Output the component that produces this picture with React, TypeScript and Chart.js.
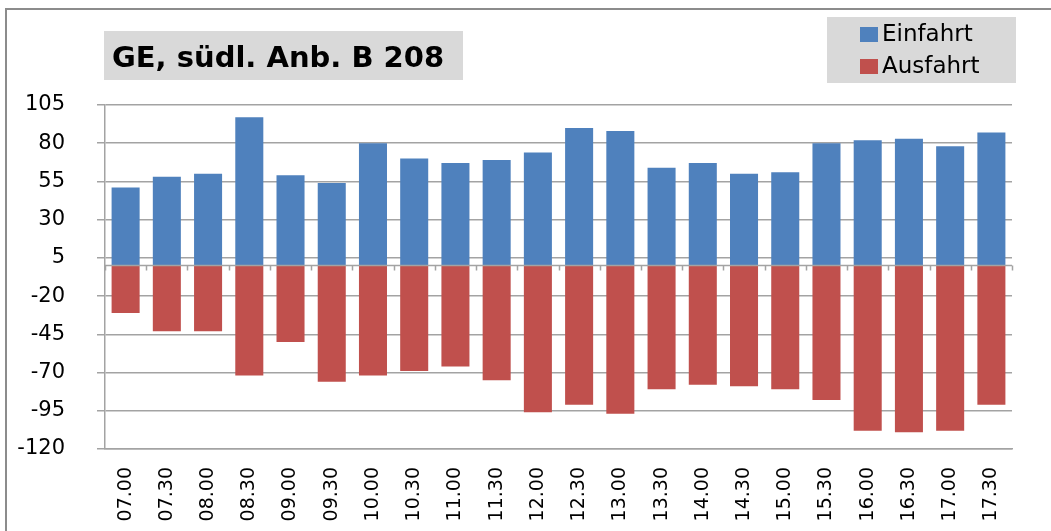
import React, { useEffect, useRef } from "react";
import { Chart, registerables } from "chart.js";

Chart.register(...registerables);

const categories = [
  "07.00", "07.30", "08.00", "08.30", "09.00", "09.30", "10.00", "10.30", "11.00", "11.30",
  "12.00", "12.30", "13.00", "13.30", "14.00", "14.30", "15.00", "15.30", "16.00", "16.30",
  "17.00", "17.30",
];
const einfahrt = [51, 58, 60, 97, 59, 54, 80, 70, 67, 69, 74, 90, 88, 64, 67, 60, 61, 80, 82, 83, 78, 87];
const ausfahrt = [-31, -43, -43, -72, -50, -76, -72, -69, -66, -75, -96, -91, -97, -81, -78, -79, -81, -88, -108, -109, -108, -91];
const chartTitle = "GE, südl. Anb. B 208";
const seriesNames = ["Einfahrt", "Ausfahrt"];
const yMin = -120;
const yMax = 105;
const yStep = 25;

const BLUE = "#4F81BD";
const RED = "#C0504D";
const GRID = "#a3a3a3";
const BOX = "#d9d9d9";

const decorPlugin = {
  id: "decor",
  afterDatasetsDraw(chart: any) {
    const { ctx, chartArea, scales } = chart;
    const y0 = scales.y.getPixelForValue(0);
    ctx.save();
    ctx.strokeStyle = GRID;
    ctx.lineWidth = 1.5;
    ctx.beginPath();
    ctx.moveTo(chartArea.left, y0);
    ctx.lineTo(chartArea.right, y0);
    const n = chart.data.labels.length;
    const w = (chartArea.right - chartArea.left) / n;
    for (let i = 0; i <= n; i++) {
      const x = Math.round(chartArea.left + i * w) + 0.5;
      ctx.moveTo(x, y0);
      ctx.lineTo(x, y0 + 5);
    }
    ctx.stroke();
    ctx.restore();
  },
  afterDraw(chart: any) {
    const { ctx } = chart;
    ctx.save();
    // outer frame
    ctx.strokeStyle = "#8c8c8c";
    ctx.lineWidth = 2;
    ctx.beginPath();
    ctx.moveTo(6, 540);
    ctx.lineTo(6, 9);
    ctx.lineTo(1060, 9);
    ctx.stroke();

    // title box
    ctx.fillStyle = BOX;
    ctx.fillRect(104, 31, 359, 49);
    ctx.fillStyle = "#000";
    ctx.font = "bold 29px 'DejaVu Sans'";
    ctx.textBaseline = "alphabetic";
    ctx.textAlign = "left";
    ctx.fillText(chartTitle, 112, 67);

    // legend
    ctx.fillStyle = BOX;
    ctx.fillRect(827, 17, 189, 66);
    const baselines = [41, 73];
    chart.data.datasets.forEach((ds: any, i: number) => {
      ctx.fillStyle = ds.backgroundColor;
      ctx.fillRect(860, baselines[i] - 14, 18, 15);
      ctx.fillStyle = "#000";
      ctx.font = "23px 'DejaVu Sans'";
      ctx.fillText(ds.label, 882, baselines[i]);
    });
    ctx.restore();
  },
};

export default function App() {
  const canvasRef = useRef<HTMLCanvasElement | null>(null);

  useEffect(() => {
    if (!canvasRef.current) return;
    const chart = new Chart(canvasRef.current, {
      type: "bar",
      data: {
        labels: categories,
        datasets: [
          { label: seriesNames[0], data: einfahrt, backgroundColor: BLUE, barPercentage: 0.68, categoryPercentage: 1 },
          { label: seriesNames[1], data: ausfahrt, backgroundColor: RED, barPercentage: 0.68, categoryPercentage: 1 },
        ],
      },
      options: {
        animation: false,
        responsive: true,
        maintainAspectRatio: false,
        layout: { padding: { top: 105, right: 39, left: 0, bottom: 0 } },
        plugins: { legend: { display: false }, title: { display: false }, tooltip: { enabled: false } },
        scales: {
          x: {
            stacked: true,
            grid: { display: false, drawTicks: false },
            border: { display: true, color: GRID, width: 1.5 },
            ticks: {
              autoSkip: false,
              maxRotation: 90,
              minRotation: 90,
              padding: 18,
              color: "#000",
              font: { family: "'DejaVu Sans'", size: 19 },
            },
            afterFit: (scale: any) => {
              scale.height = 82;
            },
          },
          y: {
            stacked: true,
            min: yMin,
            max: yMax,
            ticks: {
              stepSize: yStep,
              padding: 32,
              color: "#000",
              font: { family: "'DejaVu Sans'", size: 21 },
            },
            grid: { color: GRID, lineWidth: 1.5, tickLength: 8 },
            border: { display: true, color: GRID, width: 1.5 },
            afterFit: (scale: any) => {
              scale.width = 105;
            },
          },
        },
      },
      plugins: [decorPlugin],
    });
    return () => chart.destroy();
  }, []);

  return (
    <div style={{ position: "fixed", left: 0, top: 0, width: 1051, height: 531, background: "#fff" }}>
      <canvas ref={canvasRef} />
    </div>
  );
}
